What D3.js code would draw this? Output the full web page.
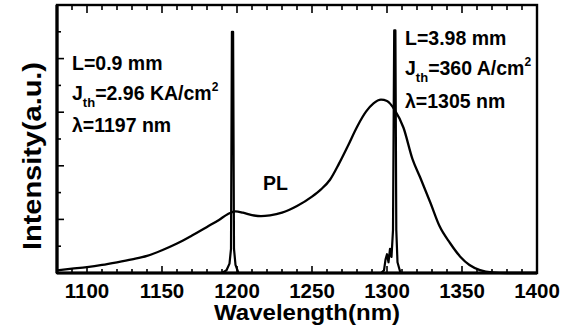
<!DOCTYPE html>
<html><head><meta charset="utf-8">
<script src="https://cdn.jsdelivr.net/npm/d3@7"></script>
<style>
body{margin:0;background:#fff;}
svg text{font-family:"Liberation Sans",Arial,sans-serif;font-weight:bold;fill:#000;}
</style></head>
<body><svg id="c" width="568" height="330"></svg>
<script>
// PL spectrum (wavelength nm, intensity a.u.)
const plWavelength = [1080,1090,1100,1110,1120,1130,1140,1150,1160,1170,1180,1188,1194,1199,1204,1210,1216,1222,1230,1240,1250,1256,1262,1268,1274,1280,1286,1291,1296,1300,1305,1311,1317,1322,1329,1335,1342,1349,1355,1362,1370,1380,1400];
const plIntensity  = [0.10,0.16,0.22,0.30,0.40,0.51,0.64,0.85,1.10,1.40,1.72,1.98,2.20,2.30,2.25,2.16,2.12,2.15,2.25,2.50,2.85,3.12,3.48,4.08,4.75,5.45,6.02,6.33,6.47,6.42,6.10,5.42,4.25,3.58,2.61,1.75,1.12,0.60,0.30,0.11,0.02,0,0];
// Lasing spectrum, L=0.9 mm
const laser1Wavelength = [1190,1193,1195,1196,1196.6,1197.4,1198,1199,1201];
const laser1Intensity  = [0,0.1,0.35,0.9,9.0,9.0,0.9,0.3,0];
// Lasing spectrum, L=3.98 mm
const laser2Wavelength = [1296,1298,1299,1300,1301,1302,1303,1304,1304.8,1305.6,1306.2,1307,1309];
const laser2Intensity  = [0,0.1,0.5,0.7,0.4,0.9,0.6,1.6,9.05,9.05,1.6,0.4,0];
const xTicks = [1100,1150,1200,1250,1300,1350,1400];

const svg = d3.select("#c");
const L=57, R=537, T=5, B=273;
const x = d3.scaleLinear().domain([1080,1400]).range([L,R]);
const y = d3.scaleLinear().domain([0,10]).range([B,T]);

const plData = plWavelength.map((w,i)=>[w,plIntensity[i]]);
const l1 = laser1Wavelength.map((w,i)=>[w,laser1Intensity[i]]);
const l2 = laser2Wavelength.map((w,i)=>[w,laser2Intensity[i]]);

const curve = d3.line().x(d=>x(d[0])).y(d=>y(d[1])).curve(d3.curveMonotoneX);
svg.append("path").attr("d", curve(plData))
  .attr("fill","none").attr("stroke","#000").attr("stroke-width",2.3);
const lin = d3.line().x(d=>x(d[0])).y(d=>y(d[1]));
[l1,l2].forEach(d=>{
  svg.append("path").attr("d", lin(d)).attr("fill","none").attr("stroke","#000").attr("stroke-width",2.2).attr("stroke-linejoin","round");
});

// ticks
const minorX = d3.range(1090,1400,10);
const g = svg.append("g").attr("stroke","#000").attr("stroke-width",1.6);
minorX.forEach(v=>{
  const major = v%50===0;
  const len = major?7:4;
  g.append("line").attr("x1",x(v)).attr("x2",x(v)).attr("y1",B).attr("y2",B-len);
  g.append("line").attr("x1",x(v)).attr("x2",x(v)).attr("y1",T).attr("y2",T+len+1);
});
d3.range(1,10).forEach(v=>{
  const len = v%2===0?7:4;
  g.append("line").attr("x1",L).attr("x2",L+len).attr("y1",y(v)).attr("y2",y(v));
});

// frame
svg.append("rect").attr("x",L).attr("y",T).attr("width",R-L).attr("height",B-T)
  .attr("fill","none").attr("stroke","#000").attr("stroke-width",2.4);
svg.append("line").attr("x1",L).attr("x2",R).attr("y1",B).attr("y2",B).attr("stroke","#000").attr("stroke-width",3.2);
svg.append("line").attr("x1",L).attr("x2",L).attr("y1",T).attr("y2",B).attr("stroke","#000").attr("stroke-width",3.2);

// tick labels
svg.selectAll(".xt").data(xTicks).enter().append("text")
  .attr("x",d=>x(d)).attr("y",298).attr("text-anchor","middle")
  .attr("font-size",20.5).text(d=>d);

svg.append("text").attr("x",307).attr("y",320).attr("text-anchor","middle")
  .attr("font-size",22).attr("textLength",186).attr("lengthAdjust","spacingAndGlyphs").text("Wavelength(nm)");
svg.append("text").attr("transform","translate(41,156) rotate(-90)").attr("text-anchor","middle")
  .attr("font-size",25).attr("textLength",188).attr("lengthAdjust","spacingAndGlyphs").text("Intensity(a.u.)");

function jth(xp, yp, rest){
  const t = svg.append("text").attr("x",xp).attr("y",yp).attr("font-size",19.5);
  t.append("tspan").text("J");
  t.append("tspan").attr("font-size",13).attr("dy",7).text("th");
  t.append("tspan").attr("dy",-7).text(rest);
  t.append("tspan").attr("font-size",12).attr("dy",-9).text("2");
}
svg.append("text").attr("x",72).attr("y",70).attr("font-size",19.5).text("L=0.9 mm");
jth(72,100,"=2.96 KA/cm");
svg.append("text").attr("x",72).attr("y",132).attr("font-size",19.5).text("λ=1197 nm");

svg.append("text").attr("x",405).attr("y",45).attr("font-size",19.5).text("L=3.98 mm");
jth(405,75,"=360 A/cm");
svg.append("text").attr("x",405).attr("y",108).attr("font-size",19.5).text("λ=1305 nm");

svg.append("text").attr("x",263).attr("y",190).attr("font-size",19.5).text("PL");
</script></body></html>
